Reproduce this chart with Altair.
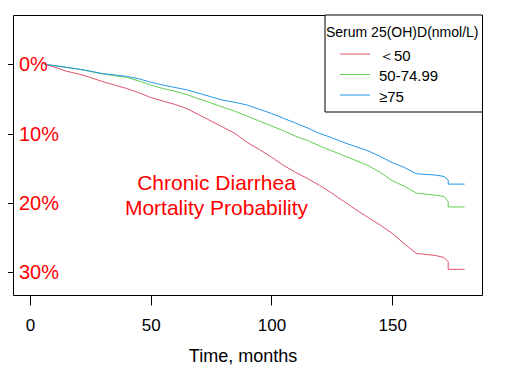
import altair as alt
import pandas as pd

# ---- data ----
months = [6, 10, 15, 20, 25, 30, 35, 40, 45, 50, 55, 60, 65, 70, 75, 80, 85, 90, 95,
          100, 105, 110, 115, 120, 125, 130, 135, 140, 145, 150, 155, 160, 168, 171.5,
          173.2, 173.2, 180]
low = [0.0, 0.4, 1.0, 1.4, 1.9, 2.5, 3.0, 3.5, 4.1, 4.8, 5.3, 5.8, 6.4, 7.3, 8.2, 9.1,
       10.0, 11.3, 12.3, 13.4, 14.6, 15.6, 16.5, 17.5, 18.6, 19.8, 21.0, 22.1, 23.2,
       24.4, 25.9, 27.3, 27.6, 27.9, 28.5, 29.6, 29.6]
mid = [0.0, 0.2, 0.45, 0.7, 1.05, 1.4, 1.65, 1.9, 2.4, 3.0, 3.5, 3.9, 4.4, 5.0, 5.6,
       6.2, 6.8, 7.5, 8.2, 8.9, 9.6, 10.4, 11.0, 11.8, 12.5, 13.2, 13.9, 14.6, 15.6,
       16.8, 17.6, 18.6, 18.9, 19.1, 19.8, 20.6, 20.6]
high = [0.0, 0.2, 0.45, 0.7, 1.0, 1.35, 1.55, 1.75, 2.1, 2.6, 3.0, 3.35, 3.7, 4.2, 4.7,
        5.2, 5.5, 5.9, 6.5, 7.1, 7.8, 8.5, 9.2, 10.0, 10.6, 11.3, 11.9, 12.5, 13.3,
        14.2, 14.9, 15.8, 16.0, 16.2, 16.7, 17.3, 17.3]

groups = ["＜50", "50-74.99", "≥75"]
legend_labels = ["\u00a0＜50", "50-74.99", "\u00a0\u00a0≥75"]
colors = ["#DF536B", "#61D04F", "#2297E6"]
legend_title = "Serum 25(OH)D(nmol/L)"
annotation = "Chronic Diarrhea\nMortality Probability"
x_ticks = [0, 50, 100, 150]
y_ticks = [0, 10, 20, 30]

FONT = "Liberation Sans"

rows = []
for g, vals in zip(groups, [low, mid, high]):
    for i, (t, v) in enumerate(zip(months, vals)):
        rows.append({"group": g, "month": t, "pct": v, "order": i})
df = pd.DataFrame(rows)

ylab_df = pd.DataFrame({"pct": y_ticks, "lab": [f"{v}%" for v in y_ticks]})
leg_df = pd.DataFrame({"group": groups, "label": legend_labels})
one = pd.DataFrame({"a": [0]})

xs = alt.Scale(domain=[-7.0, 187.2], nice=False, zero=False)
ys = alt.Scale(domain=[-7.1, 33.3], nice=False, zero=False, reverse=True)
cs = alt.Scale(domain=groups, range=colors)
leg_y = alt.Scale(type="point", domain=groups, range=[39, 80], padding=0)

lines = alt.Chart(df).mark_line(strokeWidth=1).encode(
    x=alt.X("month:Q", scale=xs,
            axis=alt.Axis(values=x_ticks, tickSize=10, labelFontSize=17,
                          labelBaseline="alphabetic", labelPadding=25.7,
                          title="Time, months", titleFontSize=18,
                          titleFontWeight="normal", titleX=229.5, titleY=66.7,
                          titleBaseline="alphabetic", titleAlign="center")),
    y=alt.Y("pct:Q", scale=ys,
            axis=alt.Axis(values=y_ticks, tickSize=10, labels=False, title=None)),
    color=alt.Color("group:N", scale=cs, legend=None),
    order="order:Q",
)

ylabels = alt.Chart(ylab_df).mark_text(
    align="left", baseline="middle", dy=1, fontSize=20, color="red", font=FONT
).encode(
    x=alt.value(6),
    y=alt.Y("pct:Q", scale=ys, axis=None),
    text="lab:N",
)

note = alt.Chart(one).mark_text(
    align="center", baseline="alphabetic", fontSize=21, color="red", font=FONT,
    lineBreak="\n", lineHeight=25
).encode(x=alt.value(203.5), y=alt.value(175), text=alt.value(annotation))

box = alt.Chart(one).mark_rect(fill="white", stroke="black", strokeWidth=1).encode(
    x=alt.value(312), x2=alt.value(469.5), y=alt.value(0), y2=alt.value(97)
)

ltitle = alt.Chart(one).mark_text(
    align="left", baseline="alphabetic", fontSize=14, color="black", font=FONT
).encode(x=alt.value(313), y=alt.value(21.7), text=alt.value(legend_title))

lrules = alt.Chart(leg_df).mark_rule(strokeWidth=1).encode(
    x=alt.value(327), x2=alt.value(357),
    y=alt.Y("group:N", scale=leg_y, axis=None),
    color=alt.Color("group:N", scale=cs, legend=None),
)

ltext = alt.Chart(leg_df).mark_text(
    align="left", baseline="alphabetic", dy=6.5, fontSize=15, color="black", font=FONT
).encode(
    x=alt.value(366),
    y=alt.Y("group:N", scale=leg_y, axis=None),
    text="label:N",
)

chart = alt.layer(lines, ylabels, note, box, ltitle, lrules, ltext).resolve_scale(
    y="independent"
).properties(
    width=469, height=280,
    padding={"left": 5, "top": 7, "right": 10, "bottom": 70},
    autosize=alt.AutoSizeParams(type="none"),
).configure_view(
    stroke="black", strokeWidth=1
).configure_axis(
    grid=False, domain=False, tickColor="black", labelColor="black",
    titleColor="black", labelFont=FONT, titleFont=FONT
)

chart.save("out.html", embed_options={"renderer": "svg", "actions": False})
